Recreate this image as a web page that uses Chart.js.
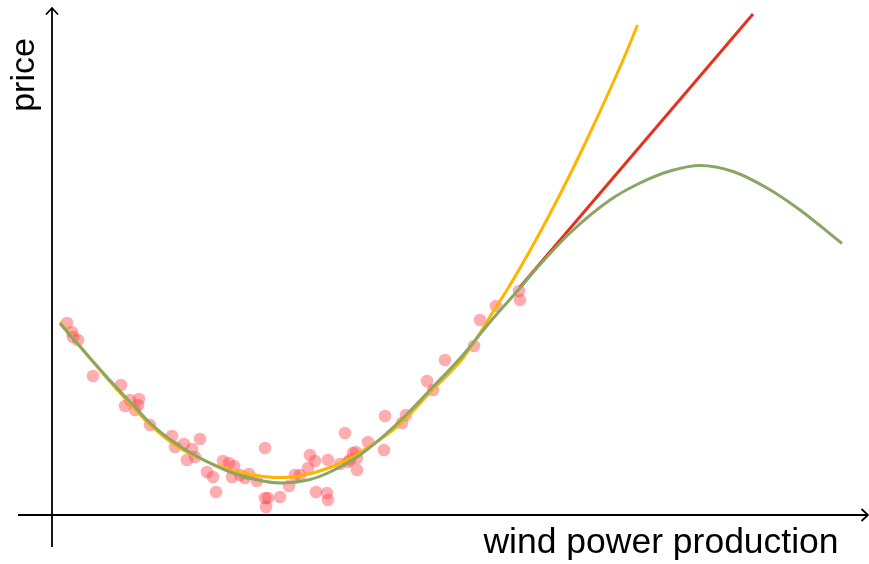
<!DOCTYPE html>
<html>
<head>
<meta charset="utf-8">
<script src="https://cdn.jsdelivr.net/npm/chart.js@4"></script>
<style>
  html, body { margin: 0; padding: 0; background: #ffffff; }
  #wrap { position: relative; width: 869px; height: 564px; }
</style>
</head>
<body>
<div id="wrap"><canvas id="c"></canvas></div>
<script>
// Observed (wind power production, price) samples
const obsX = [15,20,21,26,41,69,73,78,83,87,86,98,120,123,132,140,148,135,143,155,161,164,171,177,182,180,188,197,193,205,213,213,216,214,228,237,243,248,256,258,263,264,276,275,276,288,293,296,304,305,305,301,316,333,332,350,354,375,381,393,422,428,444,467,468,298];
const obsY = [192,183,178,175,139,130,109,115,105,116,110,90,79,68,71,66,76,55,58,43,38,23,54,52,49,38,40,41,37,34,67,17,17,8,18,29,40,40,47,60,54,23,55,22,15,51,82,53,63,57,45,62,73,99,65,92,100,134,125,155,169,195,209,224,215,55];

// Quadratic-type fit (yellow)
const quadX = [8,53,81,98,123,148,178,208,226,248,278,308,348,378,411,428,436,458,478,496,518,538,558,573,585.5];
const quadY = [193,139,108,90,70,56.5,45,39,37.5,39,47.5,62.5,91,122.5,157,182,195,230,264.5,297.5,340.5,382,425.5,459.5,490];

// Linear extrapolation (red)
const linX = [468,701];
const linY = [228,501];

// Cubic-type fit (green)
const cubX = [8,53,81,98,123,148,178,208,228,258,278,308,348,378,411,438,468,485,518,558,588,618,648,681,715,748,790];
const cubY = [191.5,140,110,92,72,57,43,34.5,32,35.5,43,60,94,125,160,193,227,247,282,315,332,344,349.5,343.5,327,305,271.5];

const xLabel = 'wind power production';
const yLabel = 'price';

function pts(xs, ys) { return xs.map((x, i) => ({ x: x, y: ys[i] })); }

const axesPlugin = {
  id: 'arrowAxes',
  beforeDatasetsDraw(chart) {
    const ctx = chart.ctx;
    const xs = chart.scales.x, ys = chart.scales.y;
    const X = v => xs.getPixelForValue(v), Y = v => ys.getPixelForValue(v);
    ctx.save();
    ctx.strokeStyle = '#000';
    ctx.lineWidth = 1.8;
    ctx.lineCap = 'butt';
    // vertical axis
    const x0 = X(0), yb = Y(-32), yt = Y(507);
    ctx.beginPath(); ctx.moveTo(x0, yb); ctx.lineTo(x0, yt); ctx.stroke();
    ctx.beginPath(); ctx.moveTo(x0 - 6, yt + 6.5); ctx.lineTo(x0, yt); ctx.lineTo(x0 + 6, yt + 6.5); ctx.stroke();
    // horizontal axis
    const y0 = Y(0), xl = X(-34), xr = X(816);
    ctx.beginPath(); ctx.moveTo(xl, y0); ctx.lineTo(xr, y0); ctx.stroke();
    ctx.beginPath(); ctx.moveTo(xr - 6.5, y0 - 6); ctx.lineTo(xr, y0); ctx.lineTo(xr - 6.5, y0 + 6); ctx.stroke();
    // labels
    ctx.fillStyle = '#000';
    ctx.font = '35.5px "Liberation Sans", Arial, sans-serif';
    ctx.textAlign = 'center';
    ctx.textBaseline = 'alphabetic';
    ctx.fillText(xLabel, 661, 553);
    ctx.save();
    ctx.translate(34, 75);
    ctx.rotate(-Math.PI / 2);
    ctx.font = '34px "Liberation Sans", Arial, sans-serif';
    ctx.fillText(yLabel, 0, 0);
    ctx.restore();
    ctx.restore();
  }
};

new Chart(document.getElementById('c'), {
  type: 'scatter',
  data: {
    datasets: [
      {
        type: 'line', label: 'cubic', data: pts(cubX, cubY),
        borderColor: 'rgb(137,166,100)', borderWidth: 3, pointRadius: 0,
        cubicInterpolationMode: 'monotone', fill: false, order: 1
      },
      {
        type: 'line', label: 'linear', data: pts(linX, linY),
        borderColor: 'rgb(228,50,28)', borderWidth: 3, pointRadius: 0,
        fill: false, order: 2
      },
      {
        type: 'line', label: 'quadratic', data: pts(quadX, quadY),
        borderColor: 'rgb(255,180,0)', borderWidth: 3, pointRadius: 0,
        cubicInterpolationMode: 'monotone', fill: false, order: 3
      },
      {
        type: 'scatter', label: 'observations', data: pts(obsX, obsY),
        backgroundColor: 'rgba(255,60,70,0.42)', borderWidth: 0,
        pointRadius: 6.3, order: 4
      }
    ]
  },
  options: {
    responsive: true,
    maintainAspectRatio: false,
    animation: false,
    events: [],
    layout: { padding: 0, autoPadding: false },
    plugins: { legend: { display: false }, tooltip: { enabled: false }, title: { display: false } },
    scales: {
      x: { type: 'linear', display: false, min: -52, max: 817 },
      y: { type: 'linear', display: false, min: -49, max: 515 }
    }
  },
  plugins: [axesPlugin]
});
</script>
</body>
</html>
